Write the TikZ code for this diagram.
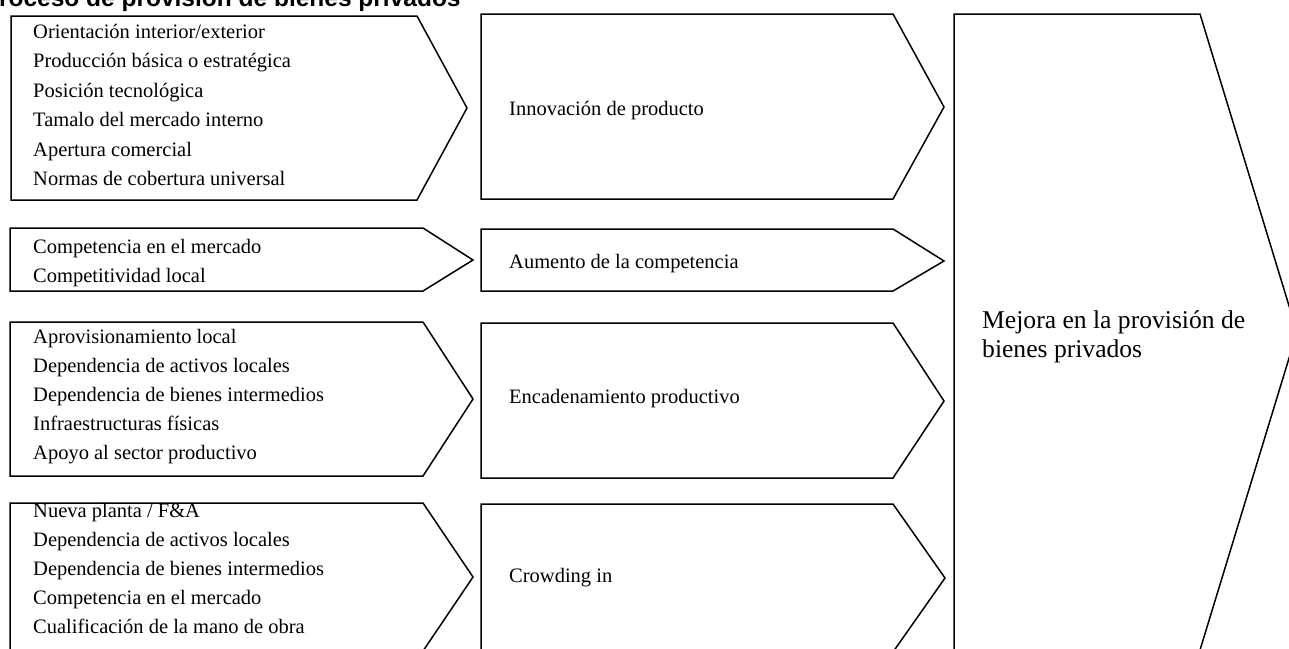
\documentclass[tikz,border=0pt]{standalone}
\usepackage{fontspec}
\setmainfont{Liberation Serif}
\newfontfamily\titlefont{Liberation Sans}
\begin{document}
\begin{tikzpicture}[x=1pt,y=-1pt,
  arrowbox/.style={draw=black,line width=1.5pt,line join=miter},
  lbl/.style={inner sep=0pt,anchor=base west,font=\fontsize{20.5}{24}\selectfont},
  biglbl/.style={inner sep=0pt,anchor=base west,font=\fontsize{25.6}{30}\selectfont},
  ttl/.style={inner sep=0pt,anchor=base west,font=\titlefont\bfseries\fontsize{24.5}{28}\selectfont}]
\useasboundingbox (0,0) rectangle (1289,648);
\clip (0,0) rectangle (1289,648);
\fill[white] (0,0) rectangle (1289,648);
% title (clipped at the top and left as in the reference)
\node[ttl] (title) at (-17.5,6) {Proceso de provisión de bienes privados};
% left column
\draw[arrowbox] (11,16) -- (417,16) -- (467,108) -- (417,200) -- (11,200) -- cycle;
\draw[arrowbox] (10,228) -- (423,228) -- (473,260) -- (423,291) -- (10,291) -- cycle;
\draw[arrowbox] (10,322) -- (423,322) -- (473,399) -- (423,476) -- (10,476) -- cycle;
\draw[arrowbox] (10,503) -- (423,503) -- (473,577) -- (423,651) -- (10,651) -- cycle;
% middle column
\draw[arrowbox] (481,14) -- (893,14) -- (944,107) -- (893,199) -- (481,199) -- cycle;
\draw[arrowbox] (481,229) -- (893,229) -- (944,261) -- (893,291) -- (481,291) -- cycle;
\draw[arrowbox] (481,323) -- (893,323) -- (944,401) -- (893,478) -- (481,478) -- cycle;
\draw[arrowbox] (481,504) -- (893,504) -- (945,578) -- (893,652) -- (481,652) -- cycle;
% right box
\draw[arrowbox] (954,14) -- (1200,14) -- (1297,332) -- (1200,650) -- (954,650) -- cycle;
% left texts
\foreach \t [count=\i] in {Orientación interior/exterior,Producción básica o estratégica,Posición tecnológica,Tamalo del mercado interno,Apertura comercial,Normas de cobertura universal}
  \node[lbl] (a\i) at (33,{38+29.5*(\i-1)}) {\t};
\foreach \t [count=\i] in {Competencia en el mercado,Competitividad local}
  \node[lbl] (b\i) at (33,{253+29*(\i-1)}) {\t};
\foreach \t [count=\i] in {Aprovisionamiento local,Dependencia de activos locales,Dependencia de bienes intermedios,Infraestructuras físicas,Apoyo al sector productivo}
  \node[lbl] (c\i) at (33,{343+29.2*(\i-1)}) {\t};
\foreach \t [count=\i] in {Nueva planta / F\&A,Dependencia de activos locales,Dependencia de bienes intermedios,Competencia en el mercado,Cualificación de la mano de obra}
  \node[lbl] (d\i) at (33,{517+29*(\i-1)}) {\t};
% middle texts
\node[lbl] (m1) at (509,115) {Innovación de producto};
\node[lbl] (m2) at (509,268) {Aumento de la competencia};
\node[lbl] (m3) at (509,403) {Encadenamiento productivo};
\node[lbl] (m4) at (509,582) {Crowding in};
% right text
\node[biglbl] (r1) at (982,328) {Mejora en la provisión de};
\node[biglbl] (r2) at (982,357) {bienes privados};
\end{tikzpicture}
\end{document}
